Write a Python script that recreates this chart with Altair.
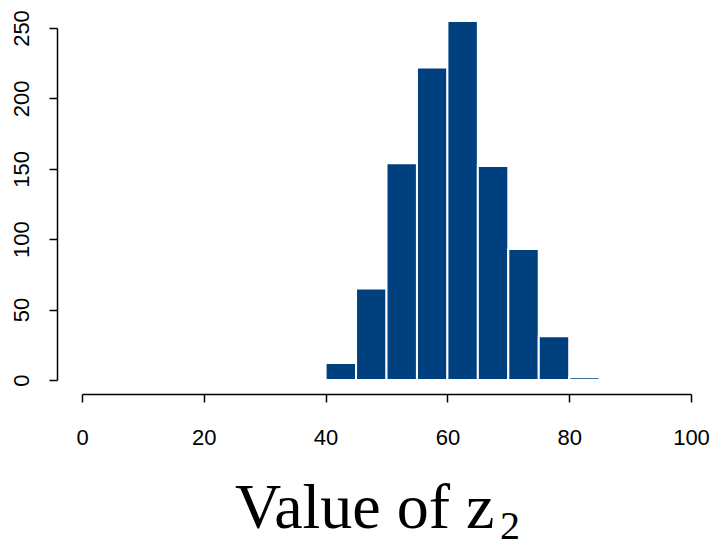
import altair as alt
import pandas as pd

bin_start = [40, 45, 50, 55, 60, 65, 70, 75, 80]
bin_end = [45, 50, 55, 60, 65, 70, 75, 80, 85]
counts = [12, 65, 154, 222, 255, 152, 93, 31, 2]
x_ticks = [0, 20, 40, 60, 80, 100]
y_ticks = [0, 50, 100, 150, 200, 250]

df = pd.DataFrame({"start": bin_start, "end": bin_end, "count": counts})

W, H = 609, 352

bars = alt.Chart(df).mark_rect(
    color="#00407F", stroke="white", strokeWidth=2
).encode(
    x=alt.X("start:Q",
            scale=alt.Scale(domain=[0, 100], nice=False, zero=False),
            axis=alt.Axis(values=x_ticks, title=None, grid=False, offset=14,
                          labelFont="Liberation Sans", labelFontSize=22,
                          labelColor="black", labelPadding=25,
                          domainColor="black", domainWidth=1.5,
                          tickColor="black", tickWidth=1.5, tickSize=8,
                          labelFlush=False)),
    x2="end:Q",
    y=alt.Y("count:Q",
            scale=alt.Scale(domain=[0, 250], nice=False),
            axis=alt.Axis(values=y_ticks, title=None, grid=False, offset=25,
                          labelFont="Liberation Sans", labelFontSize=22,
                          labelColor="black", labelAngle=270,
                          labelAlign="center", labelBaseline="bottom",
                          labelPadding=16, labelFlush=False,
                          domainColor="black", domainWidth=1.5,
                          tickColor="black", tickWidth=1.5, tickSize=8)),
    y2=alt.datum(0),
)

title_df = pd.DataFrame({"t": ["Value of z"], "s": ["2"]})

title_main = alt.Chart(title_df).mark_text(
    font="Liberation Serif", fontSize=64, align="left", baseline="alphabetic",
    color="black"
).encode(text="t:N", x=alt.value(153), y=alt.value(500))

title_sub = alt.Chart(title_df).mark_text(
    font="Liberation Serif", fontSize=40, align="left", baseline="alphabetic",
    color="black"
).encode(text="s:N", x=alt.value(418), y=alt.value(511))

chart = alt.layer(bars, title_main, title_sub).properties(
    width=W, height=H,
    autosize=alt.AutoSizeParams(type="none"),
    padding={"left": 82, "top": 28, "right": 23, "bottom": 165},
).configure(
    background="white",
    view=alt.ViewConfig(stroke="transparent", strokeWidth=0),
)

chart.save("out.html", embed_options={"renderer": "svg", "actions": False})
